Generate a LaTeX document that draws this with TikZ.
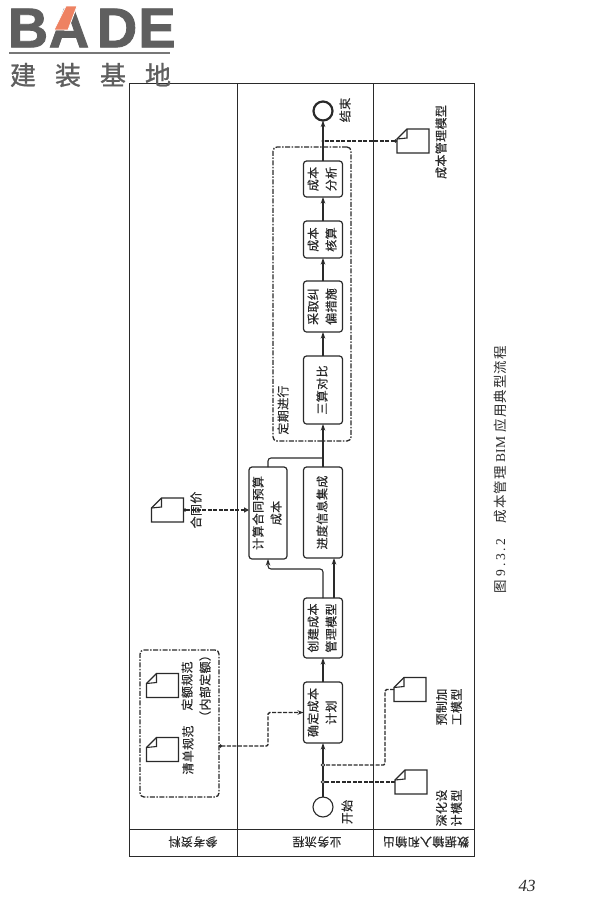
\documentclass[tikz,border=0pt]{standalone}
\usepackage{fontspec}
\setmainfont{Liberation Serif}
\newfontfamily\cjk[LetterSpace=3,FakeBold=0.4]{Noto Sans CJK SC}
\newfontfamily\cjkcap[LetterSpace=8]{Noto Sans CJK SC}
\newfontfamily\cjklogo[FakeBold=1]{Noto Sans CJK SC}
\newfontfamily\capnum[LetterSpace=20]{Liberation Serif}
\newfontfamily\logofont[FakeBold=1.5]{Liberation Sans Bold}
\usetikzlibrary{arrows.meta,calc}
\definecolor{ink}{HTML}{2A2A2A}
\definecolor{logogray}{HTML}{5F5F5F}
\definecolor{logoorange}{HTML}{EE8262}
\newcommand{\lns}[1]{\rotatebox{90}{\begin{tabular}{@{}c@{}}#1\end{tabular}}}
\tikzset{
  every node/.style={text=ink,font=\cjk\fontsize{12}{18}\selectfont,inner sep=0pt,outer sep=0pt},
  lane/.style={draw=ink,line width=1pt},
  procbox/.style={draw=ink,line width=1.2pt,rounded corners=3pt,align=center},
  grpbox/.style={draw=ink,line width=1.3pt,rounded corners=4pt,dash pattern=on 5pt off 1.5pt on 1.5pt off 1.5pt},
  docbox/.style={minimum width=32pt,minimum height=24pt},
  docline/.style={draw=ink,line width=1.1pt},
  flow/.style={draw=ink,line width=1.1pt,-{Stealth[length=6.5pt,width=4.5pt]}},
  flowplain/.style={draw=ink,line width=1.1pt},
  dashflow/.style={draw=ink,line width=1.4pt,dash pattern=on 4pt off 1.5pt,rounded corners=1.5pt},
  rlabel/.style={rotate=90},
  hlabel/.style={rotate=180},
  small/.style={font=\cjk\fontsize{12}{15}\selectfont},
  capstyle/.style={rotate=90,font=\cjkcap\fontsize{13.5}{15}\selectfont},
  pagenum/.style={font=\rmfamily\itshape\fontsize{17}{17}\selectfont},
  logoletter/.style={text=logogray,font=\logofont\fontsize{56}{56}\selectfont}
}
\newcommand{\docshape}[3]{%
  \node[docbox] (#1) at (#2,#3) {};
  \draw[docline] ($(#1.north west)+(10,0)$) -- (#1.north east) -- (#1.south east) -- (#1.south west) -- ($(#1.north west)+(0,10)$) -- cycle;
  \draw[docline] ($(#1.north west)+(10,0)$) -- ($(#1.north west)+(10,9)$) -- ($(#1.north west)+(0,10)$);
}
\begin{document}
\begin{tikzpicture}[x=1pt,y=-1pt]
\useasboundingbox (0,0) rectangle (600,900);
\fill[white] (0,0) rectangle (600,900);
% frame and lanes
\draw[lane] (129,83) rectangle (474,856);
\draw[lane] (237,83) -- (237,856);
\draw[lane] (373,83) -- (373,856);
\draw[lane] (129,829) -- (474,829);
\node[hlabel] (h1) at (193,842) {参考资料};
\node[hlabel] (h2) at (317,842) {业务流程};
\node[hlabel] (h3) at (426,842) {数据输入和输出};
% logo
\node[logoletter] (lb) at (28,28) {B};
\node[logoletter] (la) at (69,28) {A};
\node[logoletter] (ld) at (117,28) {D};
\node[logoletter] (le) at (157,28) {E};
\fill[logoorange,draw=white,line width=0.8pt] (54,30) -- (66,6) -- (77,6) -- (68,30) -- cycle;
\draw[logogray!85,line width=2.5pt] (9,53) -- (170,53);
\node[text=logogray,font=\cjklogo\fontsize{26}{26}\selectfont] (lt) at (90.5,75) {建\hspace{19pt}装\hspace{19pt}基\hspace{19pt}地};
% groups
\node[grpbox,minimum width=78pt,minimum height=294pt] (grpa) at (312,294) {};
\node[grpbox,minimum width=79pt,minimum height=147pt] (grpb) at (179.5,723.5) {};
\node[rlabel] (grpt) at (283,410) {定期进行};
% events
\node[circle,draw=ink,line width=2.2pt,minimum size=19pt] (finish) at (323,111) {};
\node[rlabel] (finisht) at (345,110) {结束};
\node[circle,draw=ink,line width=1.1pt,minimum size=20pt] (start) at (323,807) {};
\node[rlabel] (startt) at (347,812) {开始};
% process boxes
\node[procbox,minimum width=39pt,minimum height=36pt] (analysis) at (323,179) {\lns{成本\\分析}};
\node[procbox,minimum width=39pt,minimum height=37pt] (check) at (323,239.5) {\lns{成本\\核算}};
\node[procbox,minimum width=39pt,minimum height=51pt] (correct) at (323,306.5) {\lns{采取纠\\偏措施}};
\node[procbox,minimum width=39pt,minimum height=68pt] (compare) at (323,390) {\lns{三算对比}};
\node[procbox,minimum width=39pt,minimum height=91pt] (progress) at (323,512.5) {\lns{进度信息集成}};
\node[procbox,minimum width=38pt,minimum height=92pt] (calc) at (268,513) {\lns{计算合同预算\\成本}};
\node[procbox,minimum width=39pt,minimum height=60pt] (create) at (323,628) {\lns{创建成本\\管理模型}};
\node[procbox,minimum width=39pt,minimum height=61pt] (plan) at (323,712.5) {\lns{确定成本\\计划}};
% documents
\docshape{docm}{413}{141}
\node[rlabel] (docmt) at (441,142) {成本管理模型};
\docshape{docc}{167.5}{510}
\node[rlabel] (docct) at (196,510) {合同价};
\docshape{docq}{162.5}{685.5}
\node (docqt) at (197,686) {\lns{定额规范\\（内部定额）}};
\docshape{docl}{162.5}{749.5}
\node[rlabel] (doclt) at (188,750) {清单规范};
\docshape{docp}{410}{689.5}
\node[small] (docpt) at (450.5,707) {\lns{预制加\\工模型}};
\docshape{docs}{411}{782}
\node[small] (docst) at (450.5,808) {\lns{深化设\\计模型}};
% caption and page number
\node[capstyle] (caption) at (500,470) {图 {\capnum 9.3.2}\hspace{15pt}成本管理 {\rmfamily BIM} 应用典型流程};
\node[pagenum] (page) at (527,886) {43};
% junctions
\coordinate (j1) at (323,141);
\coordinate (j2) at (323,765);
\coordinate (j3) at (323,782);
\coordinate (c1) at (268,569);
\coordinate (c2) at (323,458);
\coordinate (c3) at (268,712.5);
\coordinate (c4) at (385,689.5);
\coordinate (g1) at (219,746);
% flows
\draw[flow] (start.north) -- (plan.south);
\draw[flow] (plan.north) -- (create.south);
\draw[flow] ($(create.north)+(11,0)$) -- ($(progress.south)+(11,0)$);
\draw[flow,rounded corners=3pt] (create.north) |- (c1) -- (calc.south);
\draw[flowplain,rounded corners=3pt] (calc.north) |- (c2);
\draw[flow] (progress.north) -- (compare.south);
\draw[flow] (compare.north) -- (correct.south);
\draw[flow] (correct.north) -- (check.south);
\draw[flow] (check.north) -- (analysis.south);
\draw[flow] (analysis.north) -- (finish.south);
% data links
\draw[dashflow,{Circle[open,length=3pt,width=3pt,fill=white]}-] (docm.west) -- (j1);
\fill[ink] (j1) circle (1.6pt);
\draw[dashflow,{Circle[length=3pt,width=3pt]}-{Triangle[open,length=5pt,width=5pt]}] (docc.east) -- (calc.west |- docc.east);
\draw[dashflow,{Circle[length=3pt,width=3pt]}-{Stealth[length=6pt,width=4.5pt]}] (g1) -| (c3) -- (plan.west);
\draw[dashflow] (docp.west) -- (c4) -- (c4 |- j2) -- (j2);
\draw[dashflow] (docs.west) -- (j3);
\filldraw[draw=ink,fill=white,line width=0.9pt] (j2) circle (1.7pt) (j3) circle (1.7pt);
\end{tikzpicture}
\end{document}
